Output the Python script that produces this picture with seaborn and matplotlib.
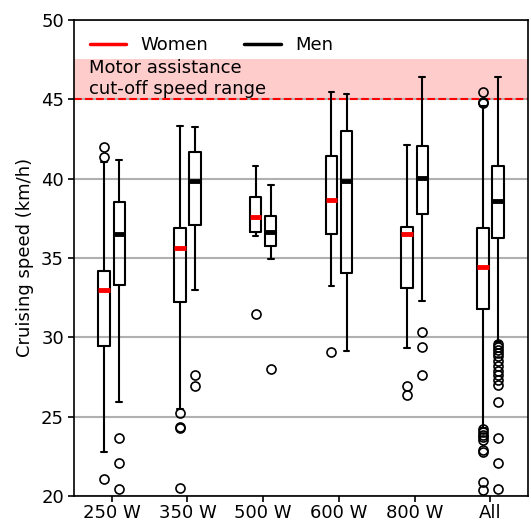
import numpy as np
import matplotlib
matplotlib.use("Agg")
import matplotlib.pyplot as plt
from matplotlib.lines import Line2D
import seaborn as sns

# Box statistics (km/h)
groups = ["250 W", "350 W", "500 W", "600 W", "800 W", "All"]

women_whislo = [22.75, 25.45, 36.35, 33.2, 29.35, 24.3]
women_q1 = [29.45, 32.25, 36.65, 36.5, 33.1, 31.75]
women_med = [32.95, 35.65, 37.6, 38.65, 36.5, 34.4]
women_q3 = [34.15, 36.9, 38.85, 41.45, 36.95, 36.9]
women_whishi = [41.05, 43.3, 40.8, 45.45, 42.1, 44.6]
women_fliers = [
    [42.0, 41.35, 21.05],
    [25.2, 24.35, 24.3, 20.5],
    [31.45],
    [29.1],
    [26.9, 26.35],
    [45.45, 44.8, 44.75, 24.2, 24.0, 23.85, 23.7, 23.5, 22.9, 22.75, 20.9, 20.4],
]

men_whislo = [25.95, 33.0, 34.95, 29.15, 32.3, 29.7]
men_q1 = [33.3, 37.05, 35.75, 34.05, 37.75, 36.25]
men_med = [36.5, 39.85, 36.6, 39.85, 40.05, 38.6]
men_q3 = [38.5, 41.65, 37.65, 43.0, 42.05, 40.8]
men_whishi = [41.15, 43.25, 39.6, 45.3, 46.4, 46.4]
men_fliers = [
    [23.65, 22.05, 20.45],
    [27.65, 26.9],
    [28.0],
    [],
    [30.3, 29.4, 27.65],
    [29.6, 29.4, 29.2, 29.0, 28.8, 28.5, 28.2, 27.9, 27.6, 27.3, 27.0,
     25.95, 23.65, 22.05, 20.45],
]

cutoff_low = 45.0
cutoff_high = 47.55

sns.set_theme(style="ticks")
plt.rcParams["font.family"] = ["DejaVu Sans"]
plt.rcParams.update({"text.color": "black", "axes.labelcolor": "black",
                     "xtick.color": "black", "ytick.color": "black"})


def make_stats(whislo, q1, med, q3, whishi, fliers):
    return [dict(whislo=a, q1=b, med=c, q3=d, whishi=e, fliers=f)
            for a, b, c, d, e, f in zip(whislo, q1, med, q3, whishi, fliers)]


fig = plt.figure(figsize=(5.31, 5.21), dpi=100)
ax = fig.add_axes([0.139, 0.048, 0.856, 0.914])

x = np.arange(len(groups))
box_kw = dict(widths=0.15, patch_artist=False, manage_ticks=False,
              boxprops=dict(color="black", lw=1.5),
              whiskerprops=dict(color="black", lw=1.5),
              capprops=dict(color="black", lw=1.5),
              flierprops=dict(marker="o", markerfacecolor="none",
                              markeredgecolor="black", markersize=6.5,
                              markeredgewidth=1.2))

ax.bxp(make_stats(women_whislo, women_q1, women_med, women_q3, women_whishi, women_fliers),
       positions=x - 0.1, medianprops=dict(color="red", lw=3.5), **box_kw)
ax.bxp(make_stats(men_whislo, men_q1, men_med, men_q3, men_whishi, men_fliers),
       positions=x + 0.1, medianprops=dict(color="black", lw=3.5), **box_kw)

ax.axhspan(cutoff_low, cutoff_high, color="#ffcccc", lw=0, zorder=0)
ax.axhline(cutoff_low, color="red", ls="--", lw=1.5, zorder=1.5)
ax.text(-0.3, 47.5, "Motor assistance\ncut-off speed range",
        fontsize=13, va="top", ha="left", linespacing=1.2)

ax.yaxis.grid(True, color="#b0b0b0", lw=1.5)
ax.set_axisbelow(True)

ax.set_xlim(-0.5, 5.5)
ax.set_ylim(20, 50)
ax.set_xticks(x)
ax.set_xticklabels(groups)
ax.set_yticks(np.arange(20, 51, 5))
ax.set_ylabel("Cruising speed (km/h)", fontsize=13, labelpad=5)
ax.tick_params(labelsize=13, length=4, width=1.2, pad=3)
ax.tick_params(axis="x", pad=1.5)
for s in ax.spines.values():
    s.set_color("black")
    s.set_linewidth(1.2)

handles = [Line2D([], [], color="red", lw=2.5), Line2D([], [], color="black", lw=2.5)]
ax.legend(handles, ["Women", "Men"], loc="upper left", ncol=2, frameon=False,
          fontsize=13, bbox_to_anchor=(0.0, 1.0), columnspacing=2.0)

fig.savefig("out.png", dpi=100)
